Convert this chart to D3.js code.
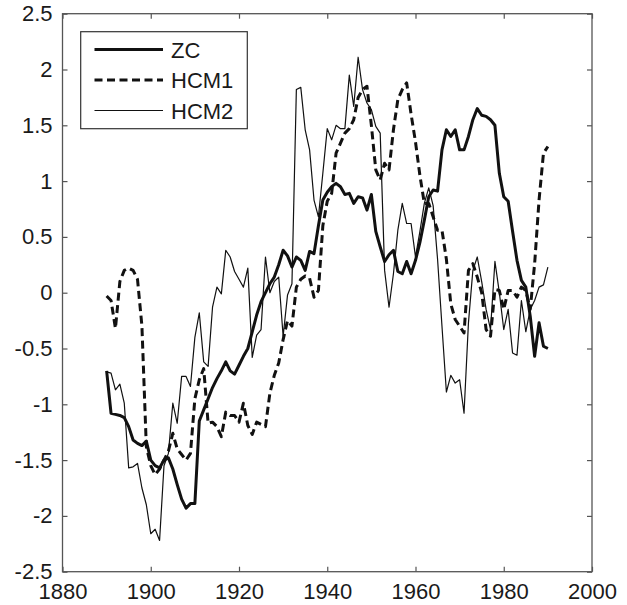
<!DOCTYPE html>
<html>
<head>
<meta charset="utf-8">
<script src="https://cdn.jsdelivr.net/npm/d3@7"></script>
<style>
  body { margin: 0; background: #fff; }
  svg { display: block; }
  text { font-family: "Liberation Sans", Arial, Helvetica, sans-serif; fill: #1a1a1a; }
</style>
</head>
<body>
<div id="chart"></div>
<script>
const years = d3.range(1890, 1991);

const zc = [
  -0.70, -1.08, -1.09, -1.10, -1.12, -1.20, -1.32, -1.35, -1.37, -1.33,
  -1.50, -1.55, -1.57, -1.50, -1.48, -1.58, -1.72, -1.85, -1.93, -1.89,
  -1.89, -1.15, -1.05, -0.95, -0.85, -0.77, -0.70, -0.62, -0.70, -0.73,
  -0.65, -0.57, -0.50, -0.35, -0.20, -0.08, 0.00, 0.08, 0.14, 0.25,
  0.38, 0.33, 0.23, 0.32, 0.29, 0.20, 0.37, 0.35, 0.60, 0.83,
  0.90, 0.95, 0.98, 0.95, 0.88, 0.89, 0.80, 0.86, 0.85, 0.74,
  0.88, 0.55, 0.41, 0.28, 0.34, 0.38, 0.19, 0.17, 0.28, 0.17,
  0.29, 0.45, 0.65, 0.86, 0.92, 0.91, 1.28, 1.46, 1.40, 1.46,
  1.28, 1.28, 1.40, 1.55, 1.65, 1.59, 1.58, 1.55, 1.50, 1.07,
  0.86, 0.82, 0.55, 0.29, 0.11, 0.05, -0.21, -0.57, -0.27, -0.48,
  -0.50
];

const hcm1 = [
  -0.03, -0.07, -0.32, 0.10, 0.20, 0.22, 0.20, 0.12, -0.30, -1.38,
  -1.55, -1.63, -1.58, -1.50, -1.42, -1.26, -1.40, -1.45, -1.50, -1.44,
  -0.95, -0.78, -0.68, -1.17, -1.16, -1.20, -1.29, -1.07, -1.10, -1.10,
  -1.16, -0.99, -1.19, -1.27, -1.16, -1.18, -1.20, -0.90, -0.74, -0.63,
  -0.42, -0.25, -0.30, 0.05, 0.12, 0.15, 0.13, -0.04, 0.02, 0.60,
  0.82, 0.89, 1.25, 1.34, 1.43, 1.47, 1.55, 1.75, 1.82, 1.85,
  1.50, 1.10, 1.01, 1.16, 1.10, 1.46, 1.73, 1.82, 1.88, 1.60,
  1.35, 1.05, 0.80, 0.80, 0.68, 0.56, 0.56, 0.30, -0.10, -0.24,
  -0.30, -0.36, 0.20, 0.26, 0.14, 0.00, -0.33, -0.39, 0.03, 0.02,
  -0.15, 0.02, 0.02, -0.04, 0.05, 0.02, -0.15, 0.26, 0.83, 1.25,
  1.31
];

const hcm2 = [
  -0.71, -0.72, -0.87, -0.82, -0.99, -1.57, -1.56, -1.53, -1.75, -1.90,
  -2.16, -2.12, -2.22, -1.55, -1.44, -0.99, -1.17, -0.75, -0.75, -0.84,
  -0.40, -0.18, -0.62, -0.66, -0.13, 0.05, -0.01, 0.38, 0.32, 0.19,
  0.12, 0.05, 0.22, -0.58, -0.38, -0.33, 0.32, 0.00, 0.10, 0.14,
  -0.39, -0.02, 0.08, 1.82, 1.84, 1.46, 1.28, 0.83, 0.68, 1.07,
  1.47, 1.37, 1.50, 1.47, 1.47, 1.95, 1.67, 2.11, 1.82, 1.70,
  1.64, 1.49, 1.43, 0.20, -0.13, 0.17, 0.56, 0.80, 0.62, 0.62,
  0.32, 0.55, 0.80, 0.94, 0.78, 0.30, -0.30, -0.89, -0.74, -0.81,
  -0.78, -1.08, -0.27, 0.20, 0.32, 0.10, -0.15, -0.33, 0.28, 0.00,
  -0.33, -0.15, -0.54, -0.56, -0.07, -0.35, -0.15, -0.07, 0.05, 0.07,
  0.23
];

const xTicks = [1880, 1900, 1920, 1940, 1960, 1980, 2000];
const yTicks = [-2.5, -2, -1.5, -1, -0.5, 0, 0.5, 1, 1.5, 2, 2.5];

const seriesNames = ["ZC", "HCM1", "HCM2"];
const seriesData = [zc, hcm1, hcm2];

const width = 627;
const height = 605;
const margin = {top: 13.7, right: 35, bottom: 33.3, left: 62.5};

const svg = d3.select("#chart").append("svg")
  .attr("width", width)
  .attr("height", height);

const x = d3.scaleLinear().domain([1880, 2000]).range([margin.left, width - margin.right]);
const y = d3.scaleLinear().domain([-2.5, 2.5]).range([height - margin.bottom, margin.top]);

const styles = {
  ZC:   {width: 3,   dash: null},
  HCM1: {width: 3,   dash: "8,4.5"},
  HCM2: {width: 1.2, dash: null}
};

// lines
const line = d3.line().x(d => x(d[0])).y(d => y(d[1]));
seriesNames.forEach((name, i) => {
  const pts = years.map((yr, j) => [yr, seriesData[i][j]]);
  svg.append("path")
    .datum(pts)
    .attr("fill", "none")
    .attr("stroke", "#111")
    .attr("stroke-width", styles[name].width)
    .attr("stroke-dasharray", styles[name].dash)
    .attr("stroke-linejoin", "round")
    .attr("d", line);
});

// axes, ticks pointing inward on all four sides
const axisColor = "#555";
const fmtY = d => d === 0 ? "0" : String(d);

const gB = svg.append("g").attr("transform", `translate(0,${y(-2.5)})`)
  .call(d3.axisBottom(x).tickValues(xTicks).tickFormat(d3.format("d")).tickSize(-5).tickSizeOuter(0).tickPadding(12));
const gL = svg.append("g").attr("transform", `translate(${x(1880)},0)`)
  .call(d3.axisLeft(y).tickValues(yTicks).tickFormat(fmtY).tickSize(-5).tickSizeOuter(0).tickPadding(10));
const gT = svg.append("g").attr("transform", `translate(0,${y(2.5)})`)
  .call(d3.axisTop(x).tickValues(xTicks).tickFormat("").tickSize(-5).tickSizeOuter(0));
const gR = svg.append("g").attr("transform", `translate(${x(2000)},0)`)
  .call(d3.axisRight(y).tickValues(yTicks).tickFormat("").tickSize(-5).tickSizeOuter(0));

[gB, gL, gT, gR].forEach(g => {
  g.select(".domain").remove();
  g.selectAll(".tick line").attr("stroke", axisColor).attr("stroke-width", 1.2);
  g.selectAll(".tick text").style("font-size", "22px").attr("fill", "#1a1a1a");
});

svg.append("rect")
  .attr("x", x(1880)).attr("y", y(2.5))
  .attr("width", x(2000) - x(1880)).attr("height", y(-2.5) - y(2.5))
  .attr("fill", "none").attr("stroke", axisColor).attr("stroke-width", 1.3);

// legend
const legend = svg.append("g");
legend.append("rect")
  .attr("x", 80.7).attr("y", 31.7).attr("width", 166.6).attr("height", 97)
  .attr("fill", "#fff").attr("stroke", "#333").attr("stroke-width", 1.2);

const rowY = [49.5, 80, 110.5];
seriesNames.forEach((name, i) => {
  legend.append("line")
    .attr("x1", 94.5).attr("x2", 163)
    .attr("y1", rowY[i]).attr("y2", rowY[i])
    .attr("stroke", "#111")
    .attr("stroke-width", styles[name].width)
    .attr("stroke-dasharray", styles[name].dash);
  legend.append("text")
    .attr("x", 171).attr("y", rowY[i] + 8)
    .style("font-size", "22px")
    .text(name);
});
</script>
</body>
</html>
